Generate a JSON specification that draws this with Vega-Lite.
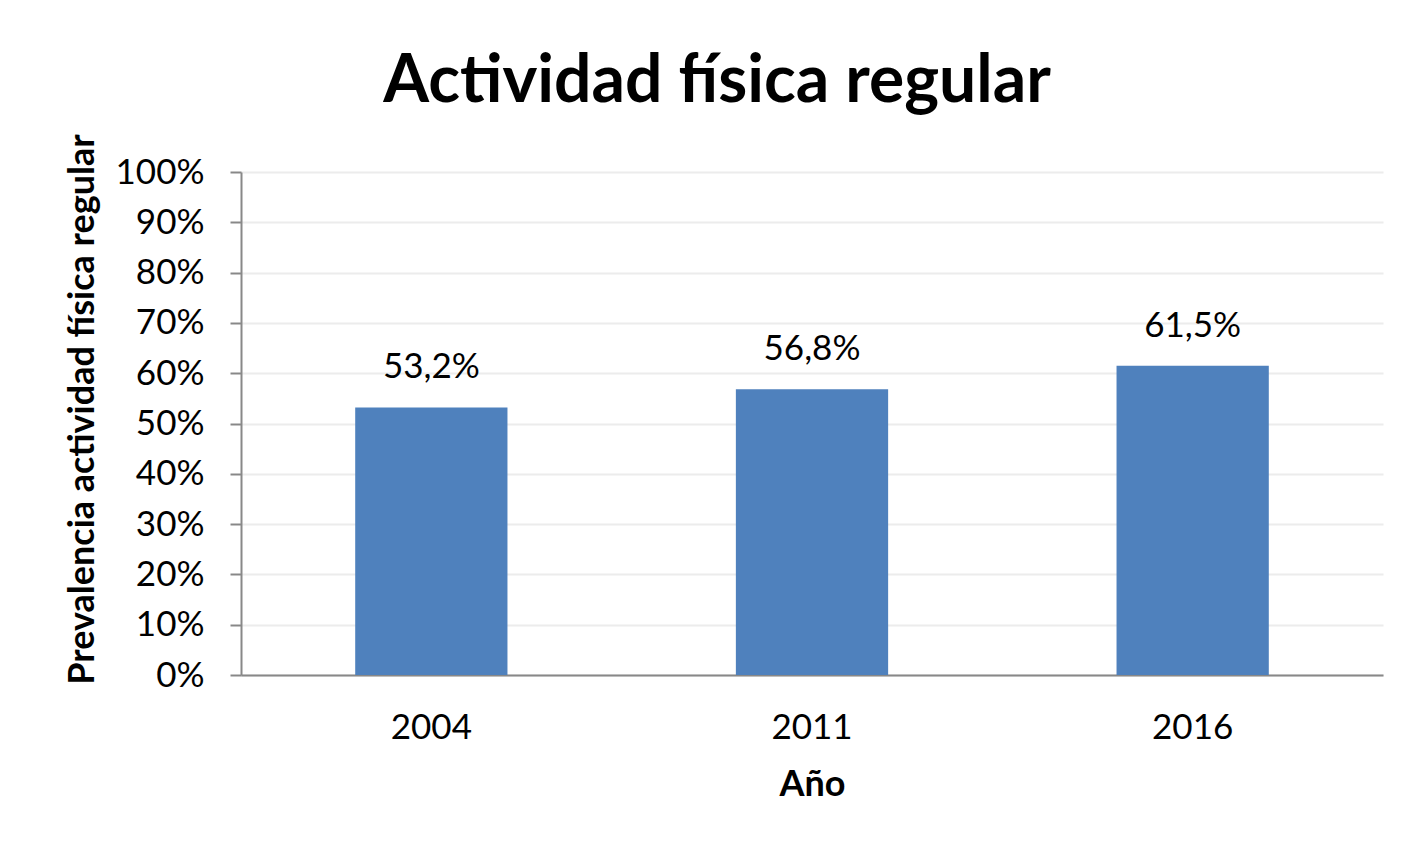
{
  "$schema": "https://vega.github.io/schema/vega-lite/v6.json",
  "width": 1142,
  "height": 503,
  "autosize": {"type": "none"},
  "padding": {"left": 241, "top": 172, "right": 29, "bottom": 179},
  "background": "white",
  "title": {
    "text": "Actividad física regular",
    "font": "Lato",
    "fontSize": 66,
    "fontWeight": "bold",
    "color": "black",
    "anchor": "middle",
    "frame": "group",
    "dx": -95,
    "offset": 18
  },
  "data": {
    "values": [
      {"year": "2004", "value": 0.532, "label": "53,2%"},
      {"year": "2011", "value": 0.568, "label": "56,8%"},
      {"year": "2016", "value": 0.615, "label": "61,5%"}
    ]
  },
  "encoding": {
    "x": {
      "field": "year",
      "type": "nominal",
      "sort": null,
      "scale": {"paddingInner": 0.6, "paddingOuter": 0.3},
      "axis": {
        "title": "Año",
        "labelAngle": 0,
        "ticks": false,
        "labelPadding": 35,
        "titlePadding": 22,
        "grid": false
      }
    },
    "y": {
      "field": "value",
      "type": "quantitative",
      "scale": {"domain": [0, 1], "nice": false},
      "axis": {
        "title": "Prevalencia actividad física regular",
        "format": ".0%",
        "values": [0, 0.1, 0.2, 0.3, 0.4, 0.5, 0.6, 0.7, 0.8, 0.9, 1],
        "tickSize": 11,
        "labelPadding": 26,
        "titlePadding": 14,
        "titleY": 237,
        "grid": true
      }
    }
  },
  "layer": [
    {"mark": {"type": "bar", "color": "#4f81bd"}},
    {
      "mark": {"type": "text", "baseline": "alphabetic", "dy": -29, "font": "Lato", "fontSize": 35, "color": "black"},
      "encoding": {"text": {"field": "label"}}
    }
  ],
  "config": {
    "view": {"stroke": null},
    "axis": {
      "labelFont": "Lato",
      "labelFontSize": 35,
      "labelColor": "black",
      "titleFont": "Lato",
      "titleFontSize": 36,
      "titleFontWeight": "bold",
      "titleColor": "black",
      "domainColor": "#888888",
      "domainWidth": 2,
      "tickColor": "#888888",
      "tickWidth": 2,
      "gridColor": "#ececec",
      "gridWidth": 2
    }
  }
}
